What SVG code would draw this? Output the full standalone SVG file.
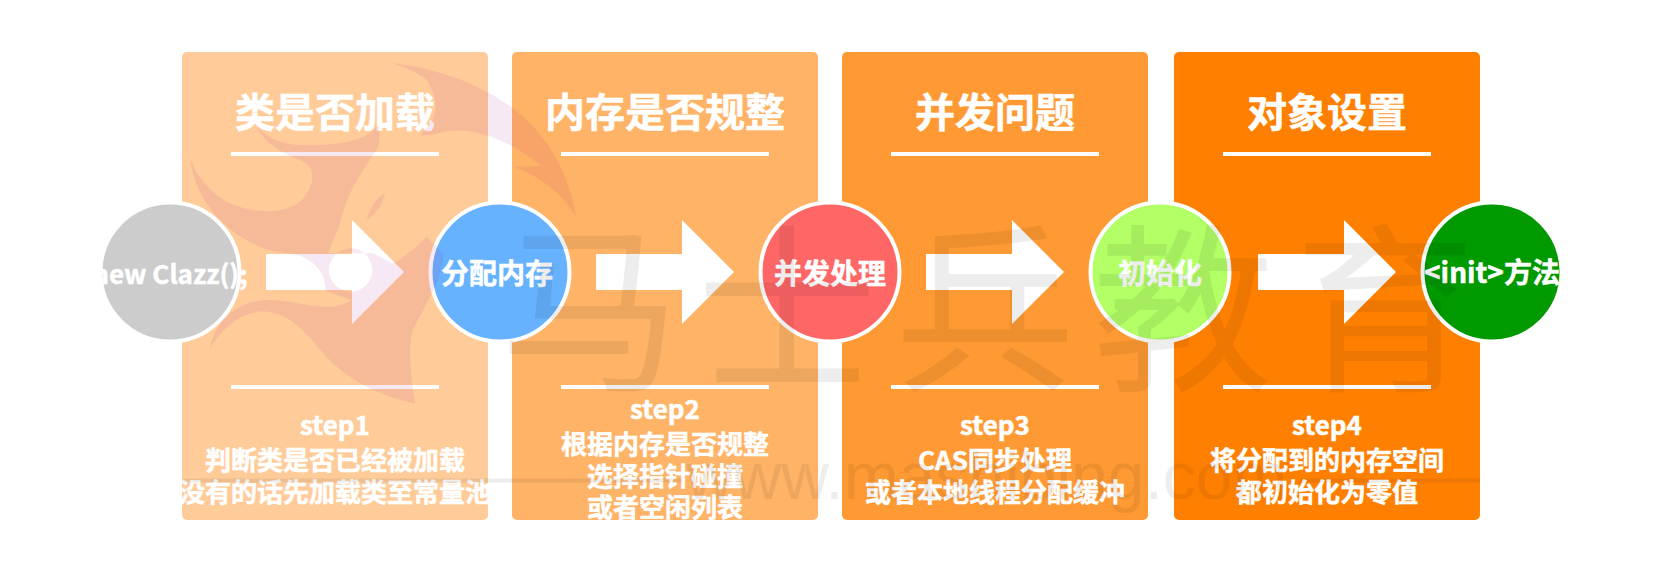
<svg xmlns="http://www.w3.org/2000/svg" width="1662" height="572" viewBox="0 0 1662 572">
<style>
text{font-family:"Noto Sans CJK SC","Liberation Sans",sans-serif;fill:#fff;font-weight:700;text-anchor:middle;stroke:#fff;stroke-width:.5}
.title{font-size:40px}
.sub{font-size:26px}
.lab{font-size:28px}
.latin{font-size:26px}
.rule{stroke:#fff;stroke-width:4;fill:none}
.ring{stroke:#fff;stroke-width:4}
.arrow{fill:#fff}
.panel{stroke:none}
.wm text{fill:#000;stroke:none;font-weight:400;font-size:181px}
.wm .url{font-family:"Liberation Sans",sans-serif;font-weight:400;font-size:66px;text-anchor:start}
</style>
<rect width="1662" height="572" fill="#fff"/>
<g id="panel1"><rect class="panel" x="182" y="52" width="306" height="468" rx="5" fill="#FFCC99"/>
<text class="title" x="335" y="127">类是否加载</text><path class="rule" d="M231 154H439M231 387H439"/>
<text class="sub" x="335" y="435">step1</text><text class="sub" x="335" y="470">判断类是否已经被加载</text><text class="sub" x="335" y="502">没有的话先加载类至常量池</text></g>
<g id="panel2"><rect class="panel" x="512" y="52" width="306" height="468" rx="5" fill="#FFB366"/>
<text class="title" x="665" y="127">内存是否规整</text><path class="rule" d="M561 154H769M561 387H769"/>
<text class="sub" x="665" y="419">step2</text><text class="sub" x="665" y="454">根据内存是否规整</text><text class="sub" x="665" y="486">选择指针碰撞</text><text class="sub" x="665" y="517">或者空闲列表</text></g>
<g id="panel3"><rect class="panel" x="842" y="52" width="306" height="468" rx="5" fill="#FF9933"/>
<text class="title" x="995" y="127">并发问题</text><path class="rule" d="M891 154H1099M891 387H1099"/>
<text class="sub" x="995" y="435">step3</text><text class="sub" x="995" y="470">CAS同步处理</text><text class="sub" x="995" y="502">或者本地线程分配缓冲</text></g>
<g id="panel4"><rect class="panel" x="1174" y="52" width="306" height="468" rx="5" fill="#FF8000"/>
<text class="title" x="1327" y="127">对象设置</text><path class="rule" d="M1223 154H1431M1223 387H1431"/>
<text class="sub" x="1327" y="435">step4</text><text class="sub" x="1327" y="470">将分配到的内存空间</text><text class="sub" x="1327" y="502">都初始化为零值</text></g>
<g id="connectors">
<path class="arrow" d="M266 254H352V220L404 272L352 324V290H266Z"/>
<path class="arrow" d="M596 254H682V220L734 272L682 324V290H596Z"/>
<path class="arrow" d="M926 254H1012V220L1064 272L1012 324V290H926Z"/>
<path class="arrow" d="M1258 254H1344V220L1396 272L1344 324V290H1258Z"/>
</g>
<g id="node-new"><circle class="ring" cx="170" cy="272" r="69.5" fill="#CCCCCC"/><text class="latin" x="170" y="284">new Clazz();</text></g>
<g id="node-alloc"><circle class="ring" cx="500" cy="272" r="69.5" fill="#66B2FF"/><text class="lab" x="497" y="284">分配内存</text></g>
<g id="node-conc"><circle class="ring" cx="830" cy="272" r="69.5" fill="#FF6666"/><text class="lab" x="830" y="284">并发处理</text></g>
<g id="node-zero"><circle class="ring" cx="1160" cy="272" r="69.5" fill="#B2FF66"/><text class="lab" x="1160" y="284">初始化</text></g>
<g id="node-init"><circle class="ring" cx="1492" cy="272" r="69.5" fill="#009900"/><text class="lab" x="1492" y="283">&lt;init&gt;方法</text></g>
<g id="watermark-flame" transform="translate(160 40) scale(.3333)" fill="#b11690" opacity=".09">
<path d="M690 68C840 85 1000 140 1110 250C1190 330 1235 440 1248 530C1200 450 1130 405 1060 380L1145 378C1060 310 960 265 880 272C840 275 810 290 780 285C820 250 850 200 800 120C770 95 730 80 690 68Z"/>
<path d="M90 355C105 470 180 570 300 620C370 650 440 635 500 660C510 610 530 590 545 530C565 450 610 390 655 320C660 290 660 270 655 255C620 300 560 310 480 315C400 320 340 310 290 262C320 320 380 345 430 365C470 385 465 440 420 485C370 525 270 520 200 485C150 455 110 410 90 355Z"/>
<path d="M150 925C165 850 220 785 320 780C380 778 440 800 500 800C560 805 620 760 640 700C700 680 760 630 800 590L850 640C850 720 790 800 755 880C745 950 755 1030 765 1090C660 1070 560 1020 490 940C440 880 390 820 320 815C250 810 190 860 150 925Z"/>
<path fill-rule="evenodd" d="M380 640C450 645 497 690 497 752L600 790L735 690L640 640ZM637 690A65 65 0 1 0 507 690A65 65 0 1 0 637 690Z"/>
<path d="M620 540C630 500 650 475 675 458C670 490 650 520 620 540Z"/>
</g>
<g id="watermark-text" class="wm" opacity=".065">
<text x="590" y="377">马</text><text x="787" y="377">士</text><text x="985" y="377">兵</text><text x="1183" y="377">教</text><text x="1385" y="377">育</text>
<text class="url" x="686" y="499">www.mashibing.com</text>
<path d="M182 480.500H682M1300 480.500H1480" stroke="#000" stroke-width="4"/>
</g>
</svg>
